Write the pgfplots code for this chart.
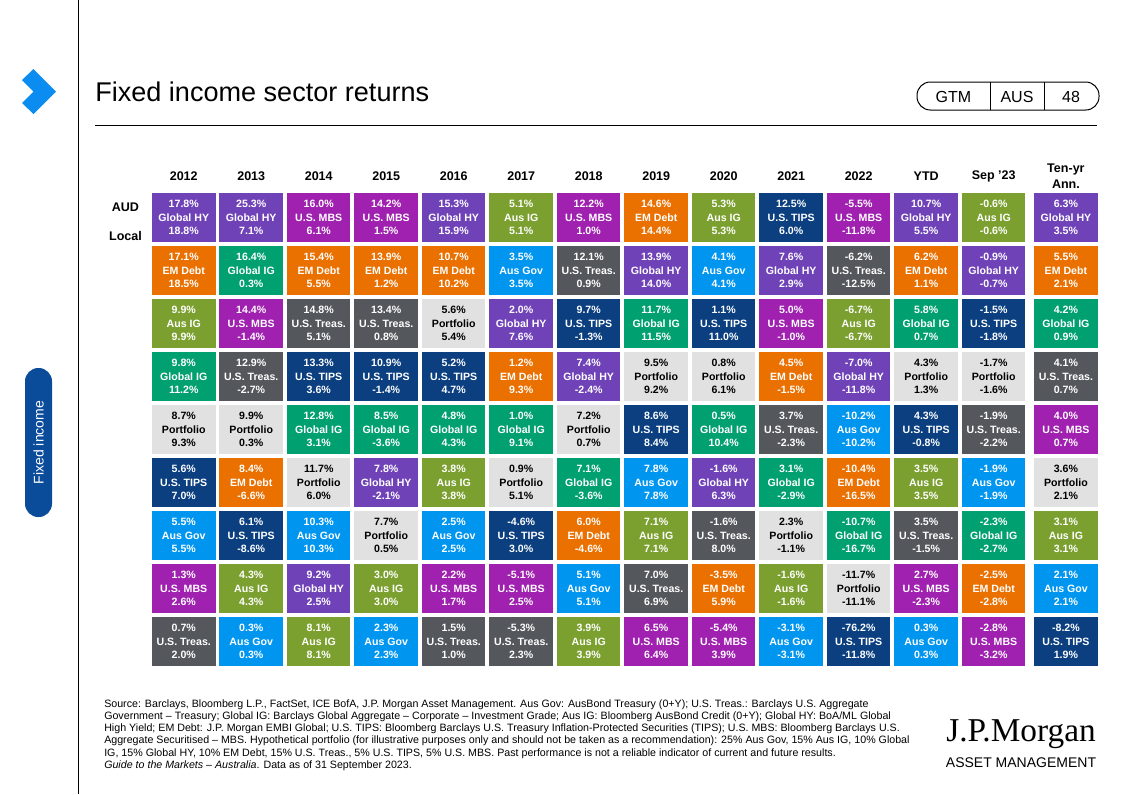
\documentclass[border=0pt]{standalone}
\usepackage{fontspec}
\setmainfont{Liberation Sans}
\newfontfamily\logofont{Liberation Serif}
\usepackage{pgfplots}
\usepackage{pgfplotstable}
\pgfplotsset{compat=1.18}

% sector colours
\definecolor{cGHY}{HTML}{6F42B8}
\definecolor{cMBS}{HTML}{A021B0}
\definecolor{cEMD}{HTML}{EA7000}
\definecolor{cGIG}{HTML}{00A070}
\definecolor{cAIG}{HTML}{7BA030}
\definecolor{cUST}{HTML}{54585D}
\definecolor{cTIPS}{HTML}{0B3F80}
\definecolor{cPF}{HTML}{E1E1E1}
\definecolor{cAGV}{HTML}{0096F0}
\definecolor{chev}{HTML}{0A8CF0}
\definecolor{side}{HTML}{0B4C9A}

\pgfdeclareplotmark{cell}{%
  \pgfpathrectangle{\pgfpoint{-23.81pt}{-18.375pt}}{\pgfpoint{47.625pt}{36.75pt}}%
  \pgfusepathqfill}
\tikzset{cellfont/.style={anchor=base, inner sep=0pt,
  font=\bfseries\fontsize{7.95}{9.5}\selectfont}}

% one table per sector: x = column (2012 ... Ten-yr), y = 9 for top rank down to 1,
% a = AUD return, b = local return
\pgfplotstableread{
x y a b
0 9 17.8 18.8
1 9 25.3 7.1
2 2 9.2 2.5
3 4 7.8 -2.1
4 9 15.3 15.9
5 7 2.0 7.6
6 6 7.4 -2.4
7 8 13.9 14.0
8 4 -1.6 6.3
9 8 7.6 2.9
10 6 -7.0 -11.8
11 9 10.7 5.5
12 8 -0.9 -0.7
13.07 9 6.3 3.5
}\tGHY
\pgfplotstableread{
x y a b
0 2 1.3 2.6
1 7 14.4 -1.4
2 9 16.0 6.1
3 9 14.2 1.5
4 2 2.2 1.7
5 2 -5.1 2.5
6 9 12.2 1.0
7 1 6.5 6.4
8 1 -5.4 3.9
9 7 5.0 -1.0
10 9 -5.5 -11.8
11 2 2.7 -2.3
12 1 -2.8 -3.2
13.07 5 4.0 0.7
}\tMBS
\pgfplotstableread{
x y a b
0 8 17.1 18.5
1 4 8.4 -6.6
2 8 15.4 5.5
3 8 13.9 1.2
4 8 10.7 10.2
5 6 1.2 9.3
6 3 6.0 -4.6
7 9 14.6 14.4
8 2 -3.5 5.9
9 6 4.5 -1.5
10 4 -10.4 -16.5
11 8 6.2 1.1
12 2 -2.5 -2.8
13.07 8 5.5 2.1
}\tEMD
\pgfplotstableread{
x y a b
0 6 9.8 11.2
1 8 16.4 0.3
2 5 12.8 3.1
3 5 8.5 -3.6
4 5 4.8 4.3
5 5 1.0 9.1
6 4 7.1 -3.6
7 7 11.7 11.5
8 5 0.5 10.4
9 4 3.1 -2.9
10 3 -10.7 -16.7
11 7 5.8 0.7
12 3 -2.3 -2.7
13.07 7 4.2 0.9
}\tGIG
\pgfplotstableread{
x y a b
0 7 9.9 9.9
1 2 4.3 4.3
2 1 8.1 8.1
3 2 3.0 3.0
4 4 3.8 3.8
5 9 5.1 5.1
6 1 3.9 3.9
7 3 7.1 7.1
8 9 5.3 5.3
9 2 -1.6 -1.6
10 7 -6.7 -6.7
11 4 3.5 3.5
12 9 -0.6 -0.6
13.07 3 3.1 3.1
}\tAIG
\pgfplotstableread{
x y a b
0 1 0.7 2.0
1 6 12.9 -2.7
2 7 14.8 5.1
3 7 13.4 0.8
4 1 1.5 1.0
5 1 -5.3 2.3
6 8 12.1 0.9
7 2 7.0 6.9
8 3 -1.6 8.0
9 5 3.7 -2.3
10 8 -6.2 -12.5
11 3 3.5 -1.5
12 5 -1.9 -2.2
13.07 6 4.1 0.7
}\tUST
\pgfplotstableread{
x y a b
0 4 5.6 7.0
1 3 6.1 -8.6
2 6 13.3 3.6
3 6 10.9 -1.4
4 6 5.2 4.7
5 3 -4.6 3.0
6 7 9.7 -1.3
7 5 8.6 8.4
8 7 1.1 11.0
9 9 12.5 6.0
10 1 -76.2 -11.8
11 5 4.3 -0.8
12 7 -1.5 -1.8
13.07 1 -8.2 1.9
}\tTIPS
\pgfplotstableread{
x y a b
0 5 8.7 9.3
1 5 9.9 0.3
2 4 11.7 6.0
3 3 7.7 0.5
4 7 5.6 5.4
5 4 0.9 5.1
6 5 7.2 0.7
7 6 9.5 9.2
8 6 0.8 6.1
9 3 2.3 -1.1
10 2 -11.7 -11.1
11 6 4.3 1.3
12 6 -1.7 -1.6
13.07 4 3.6 2.1
}\tPF
\pgfplotstableread{
x y a b
0 3 5.5 5.5
1 1 0.3 0.3
2 3 10.3 10.3
3 1 2.3 2.3
4 3 2.5 2.5
5 8 3.5 3.5
6 2 5.1 5.1
7 4 7.8 7.8
8 8 4.1 4.1
9 1 -3.1 -3.1
10 5 -10.2 -10.2
11 1 0.3 0.3
12 4 -1.9 -1.9
13.07 2 2.1 2.1
}\tAGV

% #1 table, #2 fill colour, #3 text colour, #4 sector name
\newcommand\sector[4]{%
  \addplot[only marks, mark=cell, color=#2, nodes near coords={#4},
    every node near coord/.append style={cellfont, text=#3, yshift=-2.85pt}]
    table[x=x, y=y] {#1};
  \addplot[draw=none, mark=none, point meta=explicit symbolic,
    nodes near coords={\pgfplotspointmeta\%},
    every node near coord/.append style={cellfont, text=#3, yshift=7.1pt}]
    table[x=x, y=y, meta=a] {#1};
  \addplot[draw=none, mark=none, point meta=explicit symbolic,
    nodes near coords={\pgfplotspointmeta\%},
    every node near coord/.append style={cellfont, text=#3, yshift=-12.6pt}]
    table[x=x, y=y, meta=b] {#1};
}

\begin{document}
\begin{tikzpicture}[x=0.75pt,y=-0.75pt]
\useasboundingbox (0,0) rectangle (1123,794);
\fill[white] (0,0) rectangle (1123,794);

% page furniture
\draw[line width=0.75pt] (78,0) -- (78,794);
\fill[chev] (22,80) -- (33.5,69) -- (56,91.5) -- (33.5,114) -- (22,103) -- (33.5,91.5) -- cycle;
\node[anchor=base west, inner sep=0pt, font=\fontsize{20.3}{24}\selectfont] at (95,101.7) {Fixed income sector returns};
\draw[line width=0.75pt] (95,125) -- (1097,125);

\draw[line width=0.75pt, rounded corners=10pt] (917,82) rectangle (1099,110);
\draw[line width=0.6pt] (990,82) -- (990,110);
\draw[line width=0.6pt] (1044,82) -- (1044,110);
\node[font=\fontsize{12}{14}\selectfont] at (953.5,96.5) {GTM};
\node[font=\fontsize{12}{14}\selectfont] at (1017,96.5) {AUS};
\node[font=\fontsize{12}{14}\selectfont] at (1071,96.5) {48};

\fill[side, rounded corners=10pt] (25,368) rectangle (52,517);
\node[rotate=90, text=white, font=\fontsize{10.5}{12}\selectfont] at (38.5,442.5) {Fixed income};

\begin{axis}[
  at={(112.5pt,-143.03pt)}, anchor=north west,
  scale only axis, width=712.1pt, height=357.75pt,
  xmin=-0.5, xmax=13.567, ymin=0.5, ymax=9.5,
  axis line style={draw=none}, tick style={draw=none},
  xtick={0,1,2,3,4,5,6,7,8,9,10,11,12,13.07},
  xticklabels={2012,2013,2014,2015,2016,2017,2018,2019,2020,2021,2022,YTD,Sep '23,{Ten-yr\\Ann.}},
  xticklabel pos=upper,
  xticklabel style={anchor=center, align=center, yshift=11pt,
    font=\bfseries\fontsize{9.4}{12.5}\selectfont},
  ytick={9.19,8.65}, yticklabels={AUD,Local},
  yticklabel style={anchor=center, xshift=-18.4pt,
    font=\bfseries\fontsize{9.4}{11}\selectfont},
  clip=false,
]
\sector{\tGHY}{cGHY}{white}{Global HY}
\sector{\tMBS}{cMBS}{white}{U.S. MBS}
\sector{\tEMD}{cEMD}{white}{EM Debt}
\sector{\tGIG}{cGIG}{white}{Global IG}
\sector{\tAIG}{cAIG}{white}{Aus IG}
\sector{\tUST}{cUST}{white}{U.S. Treas.}
\sector{\tTIPS}{cTIPS}{white}{U.S. TIPS}
\sector{\tPF}{cPF}{black}{Portfolio}
\sector{\tAGV}{cAGV}{white}{Aus Gov}
\end{axis}

% footnote
\begin{scope}[every node/.style={anchor=base west, inner sep=0pt, font=\fontsize{8.0}{9}\selectfont}]
\node at (104,707) {Source: Barclays, Bloomberg L.P., FactSet, ICE BofA, J.P. Morgan Asset Management. Aus Gov: AusBond Treasury (0+Y); U.S. Treas.: Barclays U.S. Aggregate};
\node at (104,719.3) {Government – Treasury; Global IG: Barclays Global Aggregate – Corporate – Investment Grade; Aus IG: Bloomberg AusBond Credit (0+Y); Global HY: BoA/ML Global};
\node at (104,731.5) {High Yield; EM Debt: J.P. Morgan EMBI Global; U.S. TIPS: Bloomberg Barclays U.S. Treasury Inflation-Protected Securities (TIPS); U.S. MBS: Bloomberg Barclays U.S.};
\node at (104,743.8) {Aggregate Securitised – MBS. Hypothetical portfolio (for illustrative purposes only and should not be taken as a recommendation): 25\% Aus Gov, 15\% Aus IG, 10\% Global};
\node at (104,756) {IG, 15\% Global HY, 10\% EM Debt, 15\% U.S. Treas., 5\% U.S. TIPS, 5\% U.S. MBS. Past performance is not a reliable indicator of current and future results.};
\node at (104,768.3) {\textit{Guide to the Markets – Australia}. Data as of 31 September 2023.};
\end{scope}

% logo
\node[font=\logofont\fontsize{25}{28}\selectfont, inner sep=0pt] at (1021,734) {J.P.Morgan};
\node[font=\fontsize{10.5}{12}\selectfont, inner sep=0pt] at (1021,763) {ASSET MANAGEMENT};
\end{tikzpicture}
\end{document}
